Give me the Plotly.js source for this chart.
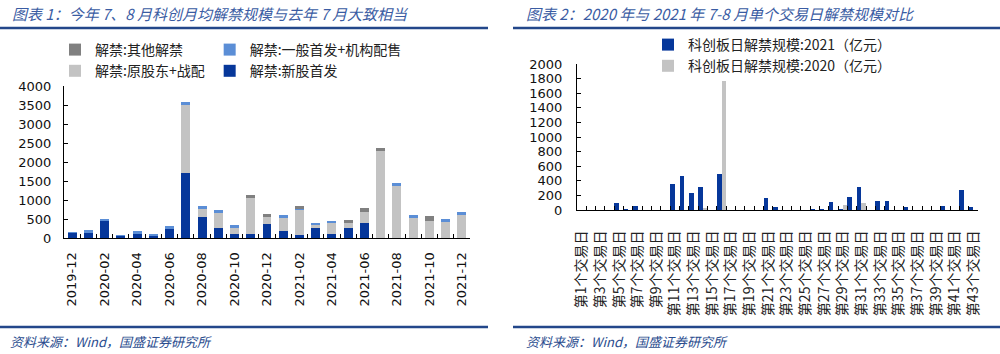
<!DOCTYPE html>
<html><head><meta charset="utf-8">
<script src="https://cdn.plot.ly/plotly-3.0.1.min.js"></script>
<style>html,body{margin:0;padding:0;background:#fff;}#chart{width:1000px;height:354px;}</style>
</head><body><div id="chart"></div>
<script>
// ---------- Chart 1: monthly unlock scale (亿元) ----------
const months = ['2019-12','2020-01','2020-02','2020-03','2020-04','2020-05','2020-06','2020-07','2020-08','2020-09','2020-10','2020-11','2020-12',
                '2021-01','2021-02','2021-03','2021-04','2021-05','2021-06','2021-07','2021-08','2021-09','2021-10','2021-11','2021-12'];
const monthTickText = ['2019-12','','2020-02','','2020-04','','2020-06','','2020-08','','2020-10','','2020-12',
                       '','2021-02','','2021-04','','2021-06','','2021-08','','2021-10','','2021-12'];
const newIPO          = [132,132,439,44,114,53,237,1711,553,263,105,114,368,184,88,263,114,263,386,0,0,0,0,0,0];
const generalIPO      = [26,70,70,35,70,53,70,79,70,70,70,0,0,88,10,70,70,0,0,0,70,70,0,70,70];
const originalHolders = [0,0,0,0,0,0,0,1798,211,395,167,947,193,333,660,70,272,140,290,2289,1377,535,439,430,605];
const otherUnlock     = [0,0,0,0,0,0,0,0,0,0,0,70,70,0,88,0,0,70,105,88,0,0,149,0,0];

// ---------- Chart 2: daily unlock scale, trading days of Jul-Aug (亿元) ----------
const days = ['第1个交易日','第2个交易日','第3个交易日','第4个交易日','第5个交易日','第6个交易日','第7个交易日','第8个交易日','第9个交易日','第10个交易日',
              '第11个交易日','第12个交易日','第13个交易日','第14个交易日','第15个交易日','第16个交易日','第17个交易日','第18个交易日','第19个交易日','第20个交易日',
              '第21个交易日','第22个交易日','第23个交易日','第24个交易日','第25个交易日','第26个交易日','第27个交易日','第28个交易日','第29个交易日','第30个交易日',
              '第31个交易日','第32个交易日','第33个交易日','第34个交易日','第35个交易日','第36个交易日','第37个交易日','第38个交易日','第39个交易日','第40个交易日',
              '第41个交易日','第42个交易日','第43个交易日'];
const daily2021 = [0,0,0,0,90,15,50,0,0,0,350,465,230,310,0,495,0,0,0,0,165,38,0,0,0,15,15,110,15,180,310,0,128,128,0,40,0,0,0,60,0,270,40];
const daily2020 = [0,0,0,0,0,0,0,0,0,0,0,0,0,30,0,1770,0,0,0,0,0,0,0,0,0,0,0,0,70,0,100,0,0,0,0,0,0,0,0,0,0,0,0];
const dayTickText = days.map((d, i) => (i % 2 === 0 ? d : ''));

const C_NEW = '#06379A', C_GEN = '#5B8ED6', C_ORIG = '#C3C3C3', C_OTHER = '#808080';
const CJK = '"Noto Sans CJK SC", sans-serif';
const NUM = '"DejaVu Sans", sans-serif';

// stacking order bottom -> top: new, original holders, general, other
const traces = [
  {type:'bar', name:'解禁:新股首发', x:months, y:newIPO, marker:{color:C_NEW}, xaxis:'x', yaxis:'y', legend:'legend', legendgroup:'b', legendrank:4},
  {type:'bar', name:'解禁:原股东+战配', x:months, y:originalHolders, marker:{color:C_ORIG}, xaxis:'x', yaxis:'y', legend:'legend', legendgroup:'a', legendrank:2},
  {type:'bar', name:'解禁:一般首发+机构配售', x:months, y:generalIPO, marker:{color:C_GEN}, xaxis:'x', yaxis:'y', legend:'legend', legendgroup:'b', legendrank:3},
  {type:'bar', name:'解禁:其他解禁', x:months, y:otherUnlock, marker:{color:C_OTHER}, xaxis:'x', yaxis:'y', legend:'legend', legendgroup:'a', legendrank:1},
  {type:'bar', name:'科创板日解禁规模:2021（亿元）', x:days, y:daily2021, base:0, offset:-0.5, width:0.5, marker:{color:C_NEW}, xaxis:'x2', yaxis:'y2', legend:'legend2'},
  {type:'bar', name:'科创板日解禁规模:2020（亿元）', x:days, y:daily2020, base:0, offset:0, width:0.5, marker:{color:C_ORIG}, xaxis:'x2', yaxis:'y2', legend:'legend2'}
];

const py = v => (354 - v) / 354;
const axisCommon = {showline:true, linecolor:'#000', linewidth:1, showgrid:false, zeroline:false,
                    ticks:'inside', ticklen:4, tickcolor:'#000', fixedrange:true};

const layout = {
  width:1000, height:354, margin:{l:0, r:0, t:0, b:0},
  paper_bgcolor:'#fff', plot_bgcolor:'rgba(0,0,0,0)',
  barmode:'stack', bargap:0.45, hovermode:false,
  xaxis: Object.assign({}, axisCommon, {domain:[0.064, 0.470], anchor:'y', type:'category',
          tickmode:'array', tickvals:months, ticktext:monthTickText, tickson:'boundaries',
          tickangle:-90, ticklabelstandoff:8, tickfont:{family:NUM, size:13, color:'#111'}}),
  yaxis: Object.assign({}, axisCommon, {domain:[py(238), py(86)], anchor:'x', range:[0,4000], dtick:500,
          ticklabelstandoff:9, tickfont:{family:NUM, size:13, color:'#111'}}),
  xaxis2: Object.assign({}, axisCommon, {domain:[0.577, 0.978], anchor:'y2', type:'category',
          tickmode:'array', tickvals:days, ticktext:dayTickText, tickson:'boundaries',
          tickangle:-90, ticklabelstandoff:14, tickfont:{family:CJK, size:14, color:'#222'}}),
  yaxis2: Object.assign({}, axisCommon, {domain:[py(210), py(64)], anchor:'x2', range:[0,2000], dtick:200,
          ticklabelstandoff:11, tickfont:{family:NUM, size:13, color:'#111'}}),
  legend: {orientation:'h', x:0.055, xanchor:'left', y:py(34), yanchor:'top', traceorder:'grouped',
           tracegroupgap:57, bgcolor:'rgba(0,0,0,0)', font:{family:CJK, size:14, color:'#222'}},
  legend2: {orientation:'v', x:0.648, xanchor:'left', y:py(29), yanchor:'top', traceorder:'normal',
           bgcolor:'rgba(0,0,0,0)', font:{family:CJK, size:14, color:'#222'}},
  shapes: [
    {type:'line', xref:'paper', yref:'paper', x0:0, x1:0.488, y0:py(28), y1:py(28), line:{color:'#23478A', width:2.5}},
    {type:'line', xref:'paper', yref:'paper', x0:0.513, x1:1, y0:py(28), y1:py(28), line:{color:'#23478A', width:2.5}},
    {type:'line', xref:'paper', yref:'paper', x0:0, x1:0.488, y0:py(327), y1:py(327), line:{color:'#23478A', width:2.5}},
    {type:'line', xref:'paper', yref:'paper', x0:0.513, x1:1, y0:py(327), y1:py(327), line:{color:'#23478A', width:2.5}}
  ],
  annotations: [
    {text:'图表 1：今年 7、8 月科创月均解禁规模与去年 7 月大致相当', xref:'paper', yref:'paper', x:0.010, y:py(13),
     xanchor:'left', yanchor:'middle', showarrow:false, font:{family:CJK, size:15, color:'#3A5CA3', style:'italic'}},
    {text:'图表 2：2020 年与 2021 年 7-8 月单个交易日解禁规模对比', xref:'paper', yref:'paper', x:0.524, y:py(13),
     xanchor:'left', yanchor:'middle', showarrow:false, font:{family:CJK, size:15, color:'#3A5CA3', style:'italic'}},
    {text:'资料来源：Wind，国盛证券研究所', xref:'paper', yref:'paper', x:0.008, y:py(341),
     xanchor:'left', yanchor:'middle', showarrow:false, font:{family:CJK, size:13, color:'#2A4C8E', style:'italic'}},
    {text:'资料来源：Wind，国盛证券研究所', xref:'paper', yref:'paper', x:0.524, y:py(341),
     xanchor:'left', yanchor:'middle', showarrow:false, font:{family:CJK, size:13, color:'#2A4C8E', style:'italic'}}
  ]
};

Plotly.newPlot('chart', traces, layout, {staticPlot:true, displayModeBar:false});
</script>
</body></html>
